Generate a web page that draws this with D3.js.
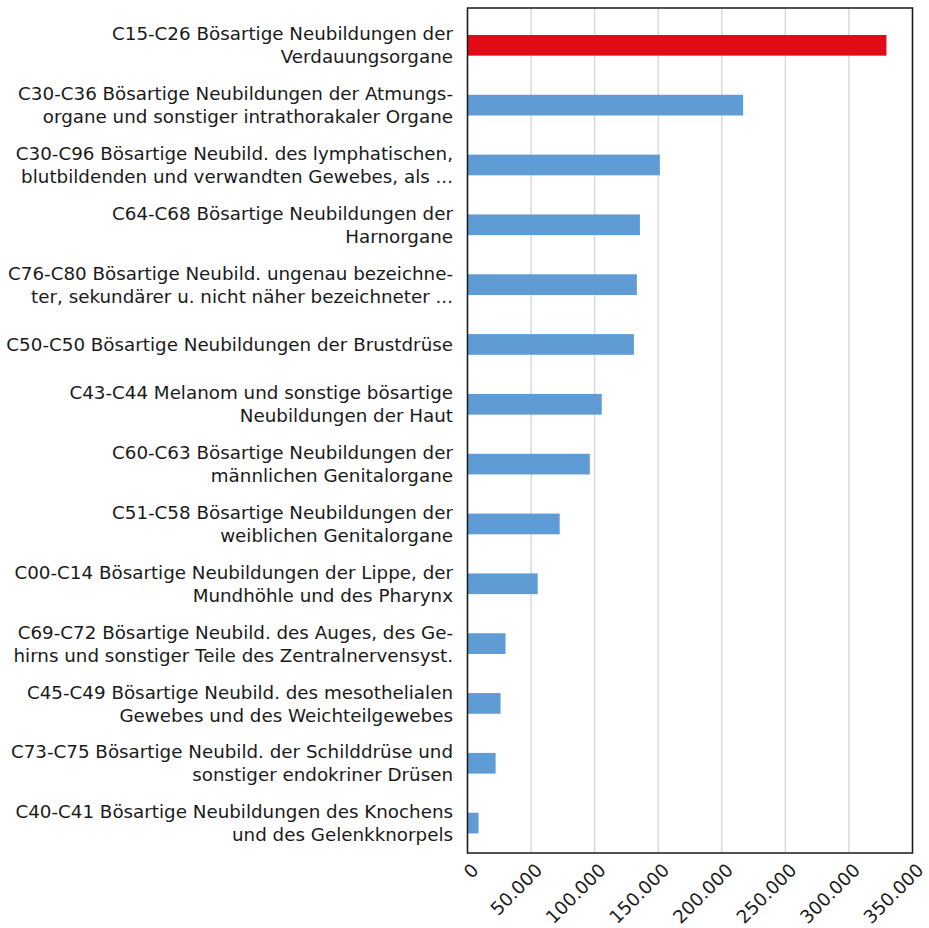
<!DOCTYPE html>
<html>
<head>
<meta charset="utf-8">
<script src="https://cdn.jsdelivr.net/npm/d3@7"></script>
<style>
  body { margin: 0; background: #fff; }
  text { font-family: "DejaVu Sans", sans-serif; fill: #1a1a1a; }
</style>
</head>
<body>
<div class="canvas"></div>
<script>
const categories = [
  ['C15-C26 Bösartige Neubildungen der', 'Verdauungsorgane'],
  ['C30-C36 Bösartige Neubildungen der Atmungs-', 'organe und sonstiger intrathorakaler Organe'],
  ['C30-C96 Bösartige Neubild. des lymphatischen,', 'blutbildenden und verwandten Gewebes, als ...'],
  ['C64-C68 Bösartige Neubildungen der', 'Harnorgane'],
  ['C76-C80 Bösartige Neubild. ungenau bezeichne-', 'ter, sekundärer u. nicht näher bezeichneter ...'],
  ['C50-C50 Bösartige Neubildungen der Brustdrüse'],
  ['C43-C44 Melanom und sonstige bösartige', 'Neubildungen der Haut'],
  ['C60-C63 Bösartige Neubildungen der', 'männlichen Genitalorgane'],
  ['C51-C58 Bösartige Neubildungen der', 'weiblichen Genitalorgane'],
  ['C00-C14 Bösartige Neubildungen der Lippe, der', 'Mundhöhle und des Pharynx'],
  ['C69-C72 Bösartige Neubild. des Auges, des Ge-', 'hirns und sonstiger Teile des Zentralnervensyst.'],
  ['C45-C49 Bösartige Neubild. des mesothelialen', 'Gewebes und des Weichteilgewebes'],
  ['C73-C75 Bösartige Neubild. der Schilddrüse und', 'sonstiger endokriner Drüsen'],
  ['C40-C41 Bösartige Neubildungen des Knochens', 'und des Gelenkknorpels']
]
const values = [329500, 216800, 151300, 135600, 133200, 130900, 105600, 96200, 72500, 55200, 29900, 26000, 22100, 8700]
const highlight = [true, false, false, false, false, false, false, false, false, false, false, false, false, false]
const ticks = [0, 50000, 100000, 150000, 200000, 250000, 300000, 350000]

const width = 929, height = 928
const svg = d3.select('.canvas').append('svg')
    .attr('width', width)
    .attr('height', height)

const pLeft = 467.5, pRight = 912.5, pTop = 8, pBottom = 853

const x = d3.scaleLinear().domain([0, 350000]).range([pLeft, pRight])
const y = d3.scaleBand()
    .domain(d3.range(categories.length))
    .range([15.4, pBottom])
    .paddingInner(0.654)
    .paddingOuter(0.327)

// gridlines
svg.append('g')
    .selectAll('line')
    .data(ticks)
    .join('line')
    .attr('x1', d => x(d))
    .attr('x2', d => x(d))
    .attr('y1', pTop)
    .attr('y2', pBottom)
    .attr('stroke', '#d9d9d9')
    .attr('stroke-width', 1.5)

// bars
svg.append('g')
    .selectAll('rect')
    .data(values)
    .join('rect')
    .attr('x', x(0))
    .attr('y', (d, i) => y(i))
    .attr('width', d => x(d) - x(0))
    .attr('height', y.bandwidth())
    .attr('fill', (d, i) => highlight[i] ? '#e20a16' : '#5f9bd5')

// frame
svg.append('rect')
    .attr('x', pLeft)
    .attr('y', pTop)
    .attr('width', pRight - pLeft)
    .attr('height', pBottom - pTop)
    .attr('fill', 'none')
    .attr('stroke', '#1a1a1a')
    .attr('stroke-width', 1.5)

// category labels
const fs = 18.3, lh = 23
const labels = svg.append('g')
    .selectAll('text')
    .data(categories)
    .join('text')
    .attr('text-anchor', 'end')
    .attr('font-size', fs)
    .attr('x', 453)
    .attr('y', (d, i) => y(i) + y.bandwidth() / 2 + fs * 0.36 - (d.length - 1) * lh / 2)

labels.selectAll('tspan')
    .data(d => d)
    .join('tspan')
    .attr('x', 453)
    .attr('dy', (d, i) => i === 0 ? 0 : lh)
    .text(d => d)

// x tick labels
const fmt = d3.formatLocale({ decimal: ',', thousands: '.', grouping: [3], currency: ['', ''] }).format(',')
svg.append('g')
    .selectAll('text')
    .data(ticks)
    .join('text')
    .attr('font-size', fs)
    .attr('text-anchor', 'end')
    .attr('transform', d => `translate(${x(d) + 3},${pBottom + 9}) rotate(-45)`)
    .attr('dy', '0.72em')
    .text(d => fmt(d))
</script>
</body>
</html>
